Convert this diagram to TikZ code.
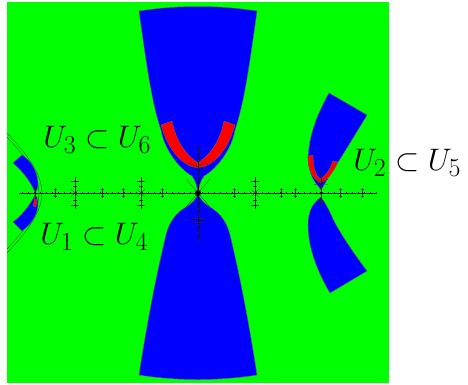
\documentclass[tikz,border=0pt]{standalone}
\usepackage{amsmath,amssymb}
\usepackage{tikz}
\usetikzlibrary{calc}
\definecolor{basingreen}{HTML}{00FF00}
\definecolor{basinblue}{HTML}{0000FF}
\definecolor{basinred}{HTML}{FF0000}
\definecolor{rimgreen}{HTML}{006400}
\tikzset{
  bluebasin/.style={fill=basinblue,draw=black!60,line width=0.4pt},
  redband/.style={fill=basinred,draw=black!60,line width=0.3pt},
  spine/.style={draw=black,line width=0.45pt},
  twig/.style={draw=black!85,line width=0.25pt},
  rim/.style={draw=rimgreen,line width=0.35pt},
  ulabel/.style={font=\Huge,scale=1.25,anchor=base west,inner sep=0pt}
}

\begin{document}
\begin{tikzpicture}[x=1pt,y=-1pt]
    \useasboundingbox (0,0) rectangle (468,384);
    \fill[basingreen] (7,2) rectangle (389,383);

    % left piece
    \begin{scope}[shift={(35,193)}]
      \draw[rim] (-28,-60) .. controls (-7,-38) and (7,-18) .. (7,0)
        .. controls (7,18) and (-7,38) .. (-28,60);
      \draw[rim] (-28,-56) .. controls (-9,-36) and (4,-18) .. (4,0)
        .. controls (4,18) and (-9,36) .. (-28,56);
      \draw[bluebasin] (0,-1) .. controls (-3,-8) and (-10,-20) .. (-22,-30)
        -- (-13,-38) .. controls (-5,-33) and (2,-24) .. (3,-10)
        .. controls (3,-5) and (2,-2) .. (0,-1) -- cycle;
      \draw[bluebasin] (0,2) .. controls (-3,8) and (-10,20) .. (-22,29)
        -- (-13,38) .. controls (-5,32) and (2,24) .. (3,12)
        .. controls (3,6) and (2,3) .. (0,2) -- cycle;
      \draw[redband] (0,3) .. controls (2,6) and (2,10) .. (1,14)
        -- (-2,13) .. controls (-1,10) and (-1,6) .. (0,3) -- cycle;
      \draw[twig] (0,-6) -- (0,6);
    \end{scope}

    % central piece
    \begin{scope}[shift={(198,193)}]
      \draw[bluebasin] (-59,-182) .. controls (-20,-188) and (20,-188) .. (59,-182)
        .. controls (52,-133) and (47,-93) .. (37,-63)
        .. controls (34,-45) and (20,-25) .. (6,-17)
        .. controls (2,-12) and (1,-6) .. (0,0)
        .. controls (-1,-6) and (-2,-12) .. (-6,-17)
        .. controls (-20,-25) and (-34,-45) .. (-37,-63)
        .. controls (-47,-93) and (-52,-133) .. (-59,-182) -- cycle;
      \draw[bluebasin] (0,0) .. controls (-2,7) and (-6,10) .. (-12,14)
        .. controls (-22,20) and (-29,29) .. (-32,42)
        .. controls (-43,87) and (-52,137) .. (-59,182)
        .. controls (-20,188) and (20,188) .. (59,182)
        .. controls (52,137) and (43,87) .. (32,42)
        .. controls (29,29) and (22,20) .. (12,14)
        .. controls (6,10) and (2,7) .. (0,0) -- cycle;
      \foreach \s in {1,-1}{
        \begin{scope}[xscale=\s]
          \draw[redband] (-37,-68) -- (-26,-72)
            .. controls (-22,-53) and (-14,-40) .. (0,-30) -- (0,-25)
            .. controls (-16,-27) and (-30,-43) .. (-37,-68) -- cycle;
        \end{scope}
      }
    \end{scope}

    % right piece
    \begin{scope}[shift={(321,193)}]
      \draw[bluebasin] (0,-3) .. controls (-3,-8) and (-12,-14) .. (-13,-35)
        .. controls (-12,-60) and (-2,-82) .. (8,-100) -- (46,-78)
        .. controls (34,-58) and (20,-35) .. (10,-20)
        .. controls (5,-12) and (2,-6) .. (0,-3) -- cycle;
      \draw[bluebasin] (0,4) .. controls (-8,10) and (-13,18) .. (-13,32)
        .. controls (-13,55) and (-3,80) .. (9,100) -- (46,78)
        .. controls (34,62) and (20,42) .. (12,26)
        .. controls (8,16) and (4,10) .. (0,4) -- cycle;
      \draw[redband] (-13,-37) .. controls (-14,-25) and (-8,-14) .. (-1,-10)
        .. controls (6,-12) and (12,-20) .. (17,-31) -- (12,-32)
        .. controls (9,-24) and (5,-17) .. (-1,-14)
        .. controls (-5,-17) and (-8,-26) .. (-8,-38) -- cycle;
      \draw[twig] (0,-23) -- (0,14);
      \draw[twig] (-7,-14) -- (7,-8);
      \draw[twig] (-7,-8) -- (7,-14);
      \draw[twig] (-3,8) -- (3,8);
    \end{scope}

    % spines
    \draw[spine] (19,193) -- (377,193);
    \foreach \x in {22,28,...,376}
      \draw[twig] (\x,191.8) -- (\x,194.2);
    \foreach \x in {55,102,123,162,234,281,295,340,362}{
      \draw[twig] (\x,188) -- (\x,198);
      \draw[twig] (\x-1.5,189.5) -- (\x+1.5,189.5);
      \draw[twig] (\x-1.5,196.5) -- (\x+1.5,196.5);
    }
    \foreach \x in {75,141,255}{
      \draw[twig] (\x,177) -- (\x,209);
      \foreach \y in {181,205}
        \draw[twig] (\x-4,\y) -- (\x+4,\y);
      \foreach \y in {186,200}
        \draw[twig] (\x-2,\y) -- (\x+2,\y);
      \draw[twig] (\x-4,189) -- (\x+4,197);
      \draw[twig] (\x-4,197) -- (\x+4,189);
    }
    \draw[spine] (198,147) -- (198,241);
    \foreach \y in {152,160,...,240}
      \draw[twig] (196.8,\y) -- (199.2,\y);
    \draw[twig] (188,163) -- (208,170);
    \draw[twig] (188,170) -- (208,163);
    \draw[twig] (191,218) -- (205,218);
    \draw[twig] (193,222) -- (203,222);
    \draw[twig] (186,179) -- (210,207);
    \draw[twig] (186,207) -- (210,179);
    \fill (198,193) circle (3);
    \fill (321,193) circle (1.5);

    % labels
    \node[ulabel] (u36) at (43,147) {$U_3\subset U_6$};
    \node[ulabel] (u14) at (40,244) {$U_1\subset U_4$};
    \node[ulabel] (u25) at (353,170) {$U_2\subset U_5$};
  \end{tikzpicture}
\end{document}
